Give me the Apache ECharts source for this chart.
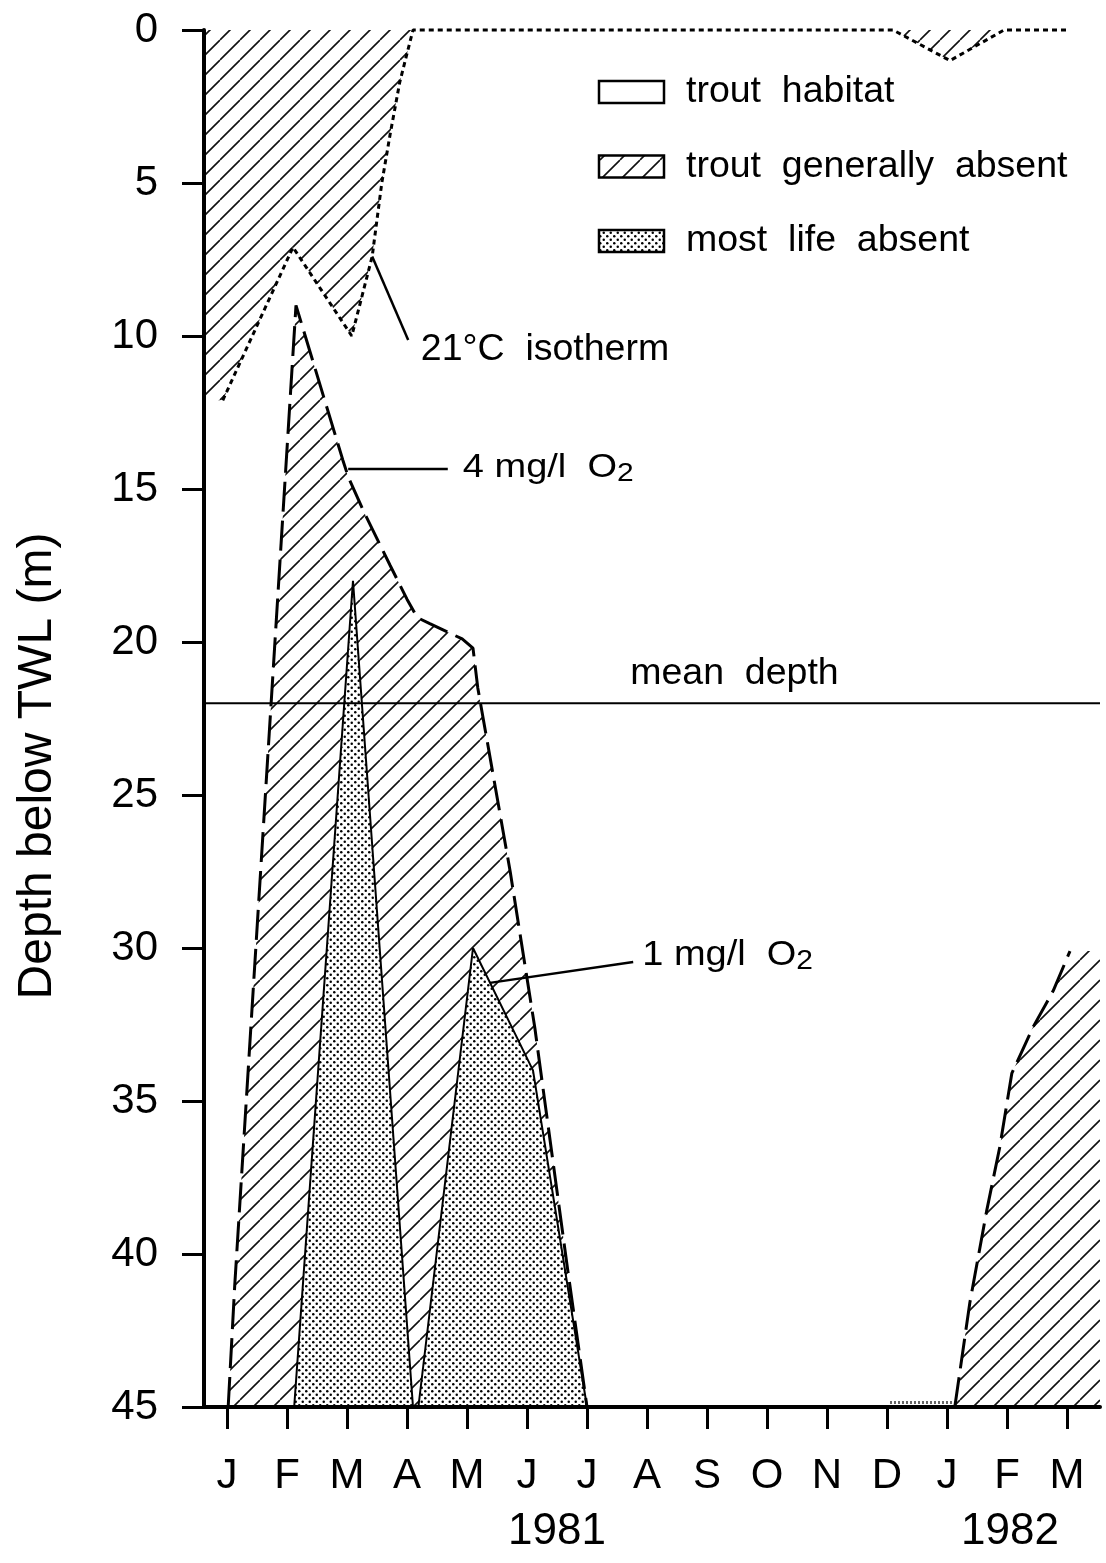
<!DOCTYPE html>
<html>
<head>
<meta charset="utf-8">
<title>Depth below TWL</title>
<script src="https://cdn.jsdelivr.net/npm/echarts@6/dist/echarts.min.js"></script>
<style>
  html, body { margin: 0; padding: 0; background: #fff; }
  #chart { width: 1106px; height: 1563px; }
</style>
</head>
<body>
<div id="chart"></div>
<script>
// x = month index (0 = January 1981), y = depth below TWL in metres
const monthLabels = ['J', 'F', 'M', 'A', 'M', 'J', 'J', 'A', 'S', 'O', 'N', 'D', 'J', 'F', 'M'];
const monthTicks = [0, 1, 2, 3, 4, 5, 6, 7, 8, 9, 10, 11, 12, 13, 14];
const yearLabels = ['1981', '1982'];
const yearAt = [5.5, 13.05];

const isothermWest = [[-0.07, 12.1], [1.1, 7.1], [2.08, 10], [2.42, 7.4], [2.58, 5], [2.72, 3.4], [2.88, 1.7], [3.1, 0]];
const isothermEast = [[11.1, 0], [12.05, 1], [12.95, 0], [14.03, 0]];
const oxygen4 = [[0.02, 45], [0.13, 41], [1.15, 9], [1.93, 14.05], [2.02, 14.6], [2.27, 15.7], [2.72, 17.5],
  [3.0, 18.6], [3.17, 19.2], [3.38, 19.4], [3.92, 19.9], [4.1, 20.2], [4.18, 21.5], [4.72, 27.5],
  [5.13, 32.6], [5.67, 40.4], [6.0, 45]];
const oxygen4Next = [[12.13, 45], [12.38, 41.6], [12.66, 38.6], [12.88, 36.5], [13.08, 34.1], [13.43, 32.6],
  [13.77, 31.4], [14.05, 30.1]];
const oxygen1Mar = [[1.12, 45], [2.1, 18], [3.1, 45]];
const oxygen1May = [[3.19, 45], [4.1, 30], [5.1, 34], [6.0, 45]];
const oxygen1Dec = [[11.05, 44.85], [12.1, 44.85]];
const meanDepth = 22;

const xMin = -0.383;
const xMax = 14.55;
const FONT = '"Liberation Sans", Arial, Helvetica, sans-serif';

function hatchTile() {
  const s = 20;
  const c = document.createElement('canvas');
  c.width = c.height = s;
  const g = c.getContext('2d');
  g.fillStyle = '#fff';
  g.fillRect(0, 0, s, s);
  g.strokeStyle = '#111';
  g.lineWidth = 1.6;
  g.beginPath();
  [-1, 0, 1].forEach(k => {
    g.moveTo(k * s, s);
    g.lineTo(k * s + s, 0);
  });
  g.stroke();
  return c;
}

function dotTile() {
  const s = 7;
  const c = document.createElement('canvas');
  c.width = c.height = s;
  const g = c.getContext('2d');
  g.fillStyle = '#fff';
  g.fillRect(0, 0, s, s);
  g.fillStyle = '#000';
  [[1.75, 1.75], [5.25, 5.25]].forEach(p => {
    g.beginPath();
    g.arc(p[0], p[1], 1.25, 0, Math.PI * 2);
    g.fill();
  });
  return c;
}

const hatch = {image: hatchTile(), repeat: 'repeat'};
const dots = {image: dotTile(), repeat: 'repeat'};

function fill(data, origin, pattern) {
  return {
    type: 'line',
    data: data,
    symbol: 'none',
    silent: true,
    lineStyle: {width: 0},
    areaStyle: {origin: origin, color: pattern, opacity: 1}
  };
}

function edge(data, type, width, color) {
  return {
    type: 'line',
    data: data,
    symbol: 'none',
    silent: true,
    clip: false,
    lineStyle: {color: color || '#000', width: width, type: type}
  };
}

const chart = echarts.init(document.getElementById('chart'), null, {renderer: 'canvas'});

const lastNext = oxygen4Next[oxygen4Next.length - 1];

chart.setOption({
  animation: false,
  backgroundColor: '#fff',
  grid: {left: 204, right: 6, top: 30, bottom: 156},
  xAxis: {
    type: 'value',
    min: xMin,
    max: xMax,
    z: 5,
    splitLine: {show: false},
    axisLine: {onZero: false, lineStyle: {color: '#000', width: 4}},
    axisTick: {customValues: monthTicks, length: 22, lineStyle: {color: '#000', width: 3}},
    axisLabel: {
      customValues: monthTicks,
      formatter: v => monthLabels[Math.round(v)],
      fontFamily: FONT,
      fontSize: 42,
      color: '#000',
      margin: 48
    }
  },
  yAxis: {
    type: 'value',
    inverse: true,
    min: 0,
    max: 45,
    interval: 5,
    z: 5,
    splitLine: {show: false},
    axisLine: {show: true, onZero: false, lineStyle: {color: '#000', width: 4}},
    axisTick: {show: true, length: 22, lineStyle: {color: '#000', width: 3}},
    axisLabel: {fontFamily: FONT, fontSize: 42, color: '#000', margin: 46}
  },
  series: [
    edge([[xMin, meanDepth], [xMax, meanDepth]], 'solid', 2),
    fill([[xMin, isothermWest[0][1]]].concat(isothermWest), 'start', hatch),
    fill(isothermEast, 'start', hatch),
    fill(oxygen4, 'end', hatch),
    fill(oxygen4Next.concat([[xMax, lastNext[1]]]), 'end', hatch),
    fill(oxygen1Mar, 'end', dots),
    fill(oxygen1May, 'end', dots),
    edge(oxygen1Mar, 'solid', 2),
    edge(oxygen1May, 'solid', 2),
    edge(oxygen4, [30, 9], 3),
    edge(oxygen4Next, [30, 9], 3),
    edge(isothermWest.concat(isothermEast), [5, 4], 3),
    edge(oxygen1Dec, [2, 2], 3, '#666')
  ]
});

const px = p => chart.convertToPixel({gridIndex: 0}, p);

function leader(a, b) {
  const p = px(a), q = px(b);
  return {type: 'line', z: 10, shape: {x1: p[0], y1: p[1], x2: q[0], y2: q[1]}, style: {stroke: '#000', lineWidth: 2.5}};
}

function label(at, text, size) {
  const p = px(at);
  return {
    type: 'text', z: 10, x: p[0], y: p[1],
    style: {text: text, fontFamily: FONT, fontSize: size, fill: '#000', align: 'left', verticalAlign: 'middle'}
  };
}

function oxygenLabel(at, num, squash) {
  const p = px(at);
  return {
    type: 'text', z: 10, x: p[0], y: p[1], scaleY: squash,
    style: {
      text: '{a|' + num + ' mg/l  O}{b|2}',
      align: 'left',
      verticalAlign: 'middle',
      rich: {
        a: {font: '38px ' + FONT, fontFamily: FONT, fontSize: 38, lineHeight: 44, fill: '#000'},
        b: {font: '30px ' + FONT, fontFamily: FONT, fontSize: 30, lineHeight: 18, verticalAlign: 'bottom', fill: '#000'}
      }
    }
  };
}

const bottom = px([0, 45])[1];
const legendRows = [
  ['trout  habitat', '#fff'],
  ['trout  generally  absent', hatch],
  ['most  life  absent', dots]
];

const graphics = [];
legendRows.forEach((row, i) => {
  const cy = 92 + i * 74.5;
  graphics.push({
    type: 'rect', z: 10, shape: {x: 599, y: cy - 11, width: 65, height: 22},
    style: {fill: row[1], stroke: '#000', lineWidth: 2.5}
  });
  graphics.push({
    type: 'text', z: 10, x: 686, y: cy,
    style: {text: row[0], fontFamily: FONT, fontSize: 37.5, fill: '#000', align: 'left', verticalAlign: 'middle'}
  });
});

graphics.push(
  leader([2.42, 7.4], [3.02, 10.13]),
  label([3.23, 10.45], '21°C  isotherm', 37.5),
  leader([2.02, 14.35], [3.68, 14.35]),
  oxygenLabel([3.93, 14.3], '4', 0.86),
  leader([4.38, 31.14], [6.77, 30.46]),
  oxygenLabel([6.92, 30.25], '1', 0.9),
  label([6.72, 21.05], 'mean  depth', 37.5),
  {
    type: 'text', z: 10, x: 38, y: 766, rotation: Math.PI / 2,
    style: {text: 'Depth below TWL (m)', fontFamily: FONT, fontSize: 48, fill: '#000', align: 'center', verticalAlign: 'middle'}
  }
);

yearLabels.forEach((t, i) => {
  graphics.push({
    type: 'text', z: 10, x: px([yearAt[i], 45])[0], y: bottom + 125,
    style: {text: t, fontFamily: FONT, fontSize: 44, fill: '#000', align: 'center', verticalAlign: 'middle'}
  });
});

chart.setOption({graphic: graphics});
</script>
</body>
</html>
